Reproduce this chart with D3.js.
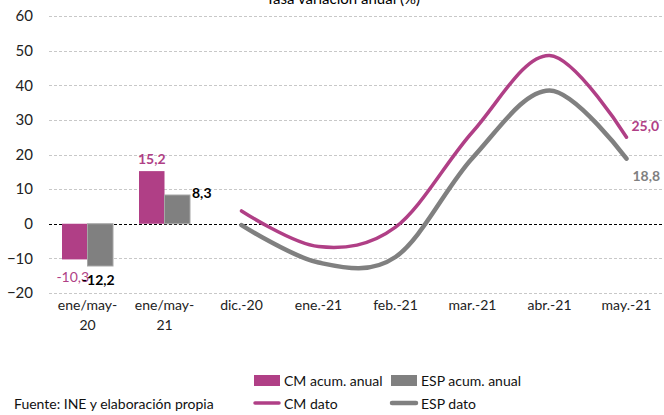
<!DOCTYPE html>
<html>
<head>
<meta charset="utf-8">
<script src="https://cdn.jsdelivr.net/npm/d3@7"></script>
<style>
  body { margin: 0; background: #fff; }
  svg { font-family: Lato, "Open Sans", sans-serif; }
</style>
</head>
<body>
<div id="chart"></div>
<script>
// categories on the x axis
const categories = ["ene/may-20", "ene/may-21", "dic.-20", "ene.-21", "feb.-21", "mar.-21", "abr.-21", "may.-21"];
const tickLabels = [["ene/may-", "20"], ["ene/may-", "21"], ["dic.-20"], ["ene.-21"], ["feb.-21"], ["mar.-21"], ["abr.-21"], ["may.-21"]];

// bars (cumulative annual)
const barCats = ["ene/may-20", "ene/may-21"];
const cmAcum = [-10.3, 15.2];
const espAcum = [-12.2, 8.3];

// lines (monthly data)
const lineCats = ["dic.-20", "ene.-21", "feb.-21", "mar.-21", "abr.-21", "may.-21"];
const cmDato = [3.7, -6.6, -1.0, 26.5, 48.6, 25.0];
const espDato = [-0.4, -11.2, -9.6, 19.0, 38.5, 18.8];

const yTicks = [-20, -10, 0, 10, 20, 30, 40, 50, 60];

const pink = "#B03F86";
const grey = "#808080";

const W = 664, H = 415;
const svg = d3.select("#chart").append("svg")
    .attr("width", W)
    .attr("height", H);

const x = d3.scaleBand()
    .domain(categories)
    .range([49, 665]);

const y = d3.scaleLinear()
    .domain([-20, 60])
    .range([293, 16]);

// title (cut off at the top)
svg.append("text")
    .attr("x", 343)
    .attr("y", 4)
    .attr("text-anchor", "middle")
    .style("font-size", "15px")
    .attr("fill", "#000")
    .text("Tasa variación anual (%)");

// grid
svg.append("g")
  .selectAll("line")
  .data(yTicks)
  .enter()
  .append("line")
    .attr("x1", 49)
    .attr("x2", 664)
    .attr("y1", d => Math.round(y(d)) + 0.5)
    .attr("y2", d => Math.round(y(d)) + 0.5)
    .attr("stroke", d => d === 0 ? "#000" : "#c8c8c8")
    .attr("stroke-width", 1)
    .attr("stroke-dasharray", d => d === 0 ? "3,2" : "3,2");

// y axis labels
const yAxis = svg.append("g")
    .attr("transform", "translate(33,0)")
    .call(d3.axisLeft(y).tickValues(yTicks).tickSize(0).tickPadding(0));
yAxis.select(".domain").remove();
yAxis.selectAll("text")
    .style("font-family", "Lato, 'Open Sans', sans-serif")
    .style("font-size", "15px")
    .attr("fill", "#222");

// x labels
const xl = svg.append("g")
  .selectAll("text")
  .data(categories)
  .enter()
  .append("text")
    .attr("x", d => x(d) + x.bandwidth() / 2)
    .attr("y", 310)
    .attr("text-anchor", "middle")
    .style("font-size", "14px")
    .attr("fill", "#222");
xl.each(function(d, i) {
  const t = d3.select(this);
  tickLabels[i].forEach((s, j) => {
    t.append("tspan")
      .attr("x", x(d) + x.bandwidth() / 2)
      .attr("dy", j === 0 ? 0 : 20)
      .text(s);
  });
});

// bars
const pad = 13;
const bw = (x.bandwidth() - 2 * pad) / 2;
svg.append("g")
  .selectAll("rect")
  .data(barCats)
  .enter()
  .append("rect")
    .attr("x", d => x(d) + pad)
    .attr("y", (d, i) => y(Math.max(0, cmAcum[i])))
    .attr("width", bw)
    .attr("height", (d, i) => Math.abs(y(cmAcum[i]) - y(0)))
    .attr("fill", pink);
svg.append("g")
  .selectAll("rect")
  .data(barCats)
  .enter()
  .append("rect")
    .attr("x", d => x(d) + pad + bw)
    .attr("y", (d, i) => y(Math.max(0, espAcum[i])))
    .attr("width", bw)
    .attr("height", (d, i) => Math.abs(y(espAcum[i]) - y(0)))
    .attr("fill", grey)
    .attr("stroke", "#a6a6a6")
    .attr("stroke-width", 1);

const fmt = v => v.toFixed(1).replace(".", ",");

// bar labels
svg.append("text")
    .attr("x", x(barCats[1]) + pad + bw / 2)
    .attr("y", y(cmAcum[1]) - 7)
    .attr("text-anchor", "middle")
    .style("font-size", "14px").style("font-weight", "bold")
    .attr("fill", pink)
    .text(fmt(cmAcum[1]));
svg.append("text")
    .attr("x", x(barCats[1]) + pad + 2 * bw + 2)
    .attr("y", y(espAcum[1]) + 3)
    .style("font-size", "14px").style("font-weight", "bold")
    .attr("fill", "#000")
    .text(fmt(espAcum[1]));
svg.append("text")
    .attr("x", x(barCats[0]) + pad + bw / 2 - 2)
    .attr("y", y(cmAcum[0]) + 23)
    .attr("text-anchor", "middle")
    .style("font-size", "14px")
    .attr("fill", pink)
    .text(fmt(cmAcum[0]));
svg.append("text")
    .attr("x", x(barCats[0]) + pad + bw + bw / 2 - 2)
    .attr("y", y(espAcum[0]) + 19)
    .attr("text-anchor", "middle")
    .style("font-size", "14px").style("font-weight", "bold")
    .attr("fill", "#000")
    .text(fmt(espAcum[0]));

// lines
const line = d3.line()
    .x((d, i) => x(lineCats[i]) + x.bandwidth() / 2)
    .y(d => y(d))
    .curve(d3.curveCatmullRom.alpha(0));

svg.append("path")
    .datum(espDato)
    .attr("d", line)
    .attr("fill", "none")
    .attr("stroke", grey)
    .attr("stroke-width", 4.5)
    .attr("stroke-linecap", "round");
svg.append("path")
    .datum(cmDato)
    .attr("d", line)
    .attr("fill", "none")
    .attr("stroke", pink)
    .attr("stroke-width", 3.5)
    .attr("stroke-linecap", "round");

const lastX = x(lineCats[lineCats.length - 1]) + x.bandwidth() / 2;
svg.append("text")
    .attr("x", lastX + 5)
    .attr("y", y(cmDato[5]) - 6)
    .style("font-size", "14px").style("font-weight", "bold")
    .attr("fill", pink)
    .text(fmt(cmDato[5]));
svg.append("text")
    .attr("x", lastX + 6)
    .attr("y", y(espDato[5]) + 22)
    .style("font-size", "14px").style("font-weight", "bold")
    .attr("fill", grey)
    .text(fmt(espDato[5]));

// legend
const legend = [
  { label: "CM acum. anual", color: pink, type: "rect", x: 254, y: 380 },
  { label: "ESP acum. anual", color: grey, type: "rect", x: 391, y: 380 },
  { label: "CM dato", color: pink, type: "line", x: 254, y: 403 },
  { label: "ESP dato", color: grey, type: "line", x: 391, y: 403 }
];
const lg = svg.append("g");
legend.forEach(l => {
  if (l.type === "rect") {
    lg.append("rect")
      .attr("x", l.x).attr("y", l.y - 5)
      .attr("width", 26).attr("height", 11)
      .attr("fill", l.color);
  } else {
    lg.append("line")
      .attr("x1", l.x + 1).attr("x2", l.x + 25)
      .attr("y1", l.y).attr("y2", l.y)
      .attr("stroke", l.color)
      .attr("stroke-width", l.color === grey ? 4.5 : 3.5)
      .attr("stroke-linecap", "round");
  }
  lg.append("text")
    .attr("x", l.x + 30)
    .attr("y", l.y + 6)
    .style("font-size", "14px")
    .attr("fill", "#111")
    .text(l.label);
});

svg.append("text")
    .attr("x", 14)
    .attr("y", 409)
    .style("font-size", "14px")
    .attr("fill", "#111")
    .text("Fuente:  INE y elaboración propia");
</script>
</body>
</html>
